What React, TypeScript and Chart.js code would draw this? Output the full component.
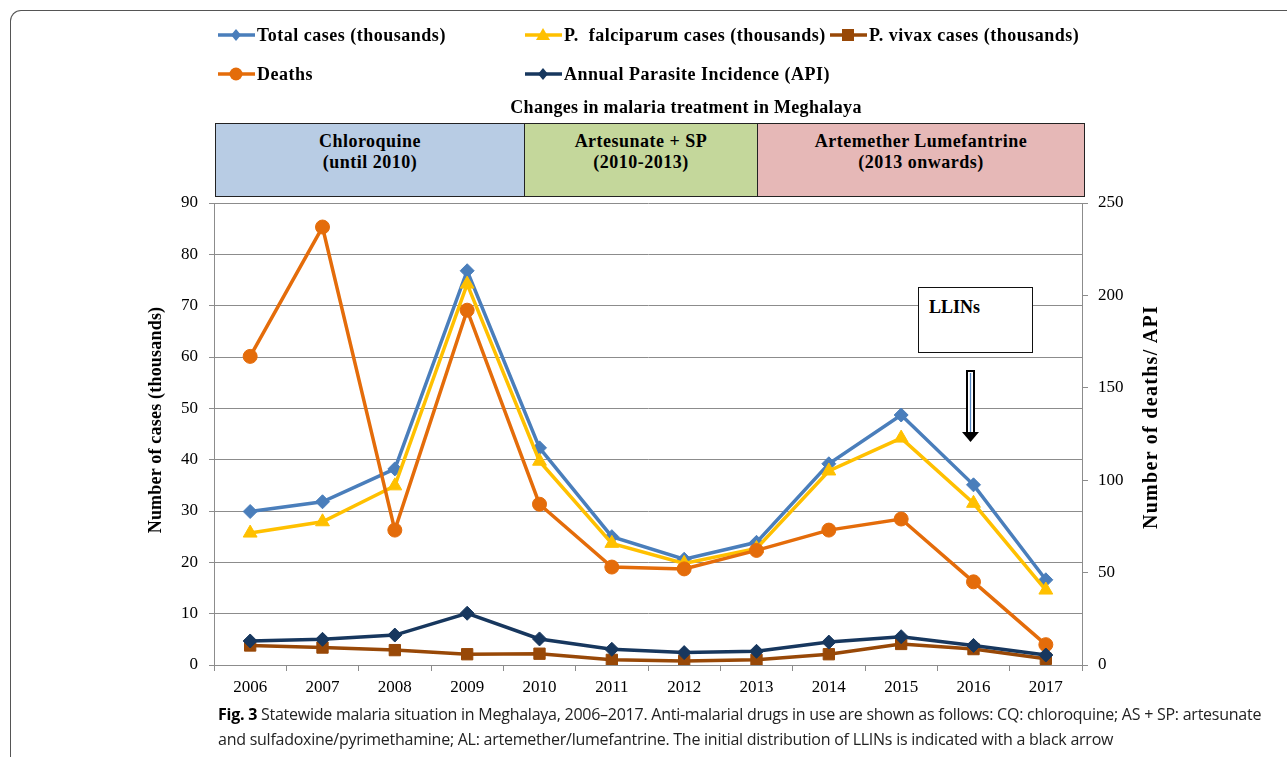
import React, { useEffect, useRef } from "react";
import { Chart, registerables } from "chart.js";

Chart.register(...registerables);

const years = ["2006", "2007", "2008", "2009", "2010", "2011", "2012", "2013", "2014", "2015", "2016", "2017"];
const totalCases = [29.9, 31.8, 38.2, 76.8, 42.3, 25.0, 20.6, 23.9, 39.2, 48.7, 35.1, 16.6];
const falciparumCases = [25.7, 27.9, 34.9, 74.2, 39.7, 23.7, 19.8, 22.7, 37.8, 44.2, 31.5, 14.6];
const vivaxCases = [3.8, 3.4, 2.9, 2.1, 2.2, 1.0, 0.8, 1.0, 2.1, 4.1, 3.1, 1.2];
const deaths = [167, 237, 73, 192, 87, 53, 52, 62, 73, 79, 45, 11];
const apiValues = [13.0, 13.9, 16.2, 28.0, 14.1, 8.5, 6.7, 7.4, 12.4, 15.3, 10.6, 5.4];

const leftTicks = { min: 0, max: 90, step: 10 };
const rightTicks = { min: 0, max: 250, step: 50 };

const C_TOTAL = "#4A7EBB";
const C_PF = "#FFC000";
const C_PV = "#984807";
const C_DEATH = "#E46C0A";
const C_API = "#17375E";

const SERIF = "'Liberation Serif', 'DejaVu Serif', serif";
const GRID = "#8C8C8C";

type Marker = "rectRot" | "triangle" | "rect" | "circle";

function LegendSwatch({ color, marker }: { color: string; marker: Marker }) {
  const cx = 18, cy = 8;
  let shape: React.ReactNode = null;
  if (marker === "rectRot") shape = <polygon points={`${cx},${cy - 6} ${cx + 5},${cy} ${cx},${cy + 6} ${cx - 5},${cy}`} fill={color} />;
  if (marker === "triangle") shape = <polygon points={`${cx},${cy - 7} ${cx + 7},${cy + 5} ${cx - 7},${cy + 5}`} fill={color} />;
  if (marker === "rect") shape = <rect x={cx - 6} y={cy - 6} width={12} height={12} fill={color} />;
  if (marker === "circle") shape = <circle cx={cx} cy={cy} r={6.5} fill={color} />;
  return (
    <svg width={37} height={16} style={{ display: "block" }}>
      <line x1={0} y1={cy} x2={37} y2={cy} stroke={color} strokeWidth={3.5} />
      {shape}
    </svg>
  );
}

function LegendItem({ left, top, color, marker, label }: { left: number; top: number; color: string; marker: Marker; label: string }) {
  return (
    <div style={{ position: "absolute", left, top, display: "flex", alignItems: "center", whiteSpace: "pre" }}>
      <LegendSwatch color={color} marker={marker} />
      <span style={{ marginLeft: 2, fontFamily: SERIF, fontWeight: "bold", fontSize: 18, letterSpacing: 0.5, color: "#000", lineHeight: "22px" }}>{label}</span>
    </div>
  );
}

export default function App() {
  const canvasRef = useRef<HTMLCanvasElement | null>(null);

  useEffect(() => {
    if (!canvasRef.current) return;
    const mk = (label: string, data: number[], color: string, style: Marker, radius: number, axis: string, order: number, width = 3.5) => ({
      label,
      data,
      borderColor: color,
      backgroundColor: color,
      pointBackgroundColor: color,
      pointBorderColor: color,
      pointBorderWidth: 1,
      pointStyle: style,
      pointRadius: radius,
      borderWidth: width,
      yAxisID: axis,
      order,
      tension: 0,
      fill: false,
    });
    const chart = new Chart(canvasRef.current, {
      type: "line",
      data: {
        labels: years,
        datasets: [
          mk("Total cases (thousands)", totalCases, C_TOTAL, "rectRot", 7, "y", 5),
          mk("P.  falciparum cases (thousands)", falciparumCases, C_PF, "triangle", 8, "y", 4),
          mk("P. vivax cases (thousands)", vivaxCases, C_PV, "rect", 8, "y", 3),
          mk("Deaths", deaths, C_DEATH, "circle", 7, "y1", 2),
          mk("Annual Parasite Incidence (API)", apiValues, C_API, "rectRot", 7, "y1", 1),
        ] as any,
      },
      options: {
        responsive: false,
        animation: false,
        devicePixelRatio: 1,
        layout: { padding: { top: 203, bottom: 52, left: 0, right: 0 } },
        plugins: { legend: { display: false }, title: { display: false }, tooltip: { enabled: false } },
        font: { family: SERIF },
        scales: {
          x: {
            type: "category",
            offset: true,
            grid: { display: true, drawOnChartArea: false, drawTicks: true, tickLength: 6, offset: true, color: GRID },
            border: { display: true, color: GRID, width: 1 },
            ticks: { color: "#000", font: { family: SERIF, size: 17 }, padding: 6, maxRotation: 0, autoSkip: false },
            afterFit: (s: any) => { s.height = 40; },
          },
          y: {
            type: "linear",
            position: "left",
            min: leftTicks.min,
            max: leftTicks.max,
            ticks: { stepSize: leftTicks.step, color: "#000", font: { family: SERIF, size: 17 }, padding: 11 },
            grid: { color: GRID, lineWidth: 1, drawTicks: true, tickLength: 5 },
            border: { display: true, color: GRID, width: 1 },
            afterFit: (s: any) => { s.width = 214; },
          },
          y1: {
            type: "linear",
            position: "right",
            min: rightTicks.min,
            max: rightTicks.max,
            ticks: { stepSize: rightTicks.step, color: "#000", font: { family: SERIF, size: 17 }, padding: 10 },
            grid: { drawOnChartArea: false, drawTicks: true, tickLength: 6, color: GRID },
            border: { display: true, color: GRID, width: 1 },
            afterFit: (s: any) => { s.width = 205; },
          },
        },
      } as any,
    });
    return () => chart.destroy();
  }, []);

  const boxStyle = (left: number, width: number, bg: string): React.CSSProperties => ({
    position: "absolute",
    left,
    top: 123,
    width,
    height: 74,
    boxSizing: "border-box",
    background: bg,
    border: "1px solid #222",
    fontFamily: SERIF,
    fontWeight: "bold",
    fontSize: 18,
    letterSpacing: 0.5,
    lineHeight: "21px",
    textAlign: "center",
    paddingTop: 7,
    color: "#000",
  });

  return (
    <div style={{ position: "absolute", left: 0, top: 0, width: 1287, height: 757, overflow: "hidden", background: "#fff" }}>
      <div style={{ position: "absolute", left: 10, top: 9.5, width: 1300, height: 800, borderTop: "1.5px solid #555", borderLeft: "1.5px solid #555", borderTopLeftRadius: 11 }} />
      <canvas ref={canvasRef} width={1287} height={757} style={{ position: "absolute", left: 0, top: 0, width: 1287, height: 757 }} />

      <LegendItem left={218} top={24} color={C_TOTAL} marker="rectRot" label="Total cases (thousands)" />
      <LegendItem left={525} top={24} color={C_PF} marker="triangle" label="P.  falciparum cases (thousands)" />
      <LegendItem left={830} top={24} color={C_PV} marker="rect" label="P. vivax cases (thousands)" />
      <LegendItem left={218} top={63} color={C_DEATH} marker="circle" label="Deaths" />
      <LegendItem left={525} top={63} color={C_API} marker="rectRot" label="Annual Parasite Incidence (API)" />

      <div style={{ position: "absolute", left: 436, top: 96, width: 500, textAlign: "center", fontFamily: SERIF, fontWeight: "bold", fontSize: 18, letterSpacing: 0.3, lineHeight: "22px", whiteSpace: "nowrap" }}>
        Changes in malaria treatment in Meghalaya
      </div>

      <div style={boxStyle(215, 310, "#B8CCE4")}>Chloroquine<br />(until 2010)</div>
      <div style={boxStyle(524, 234, "#C4D79B")}>Artesunate + SP<br />(2010-2013)</div>
      <div style={boxStyle(757, 328, "#E6B8B7")}>Artemether Lumefantrine<br />(2013 onwards)</div>

      <div style={{ position: "absolute", left: 5, top: 408, width: 300, height: 24, lineHeight: "24px", transform: "rotate(-90deg)", textAlign: "center", fontFamily: SERIF, fontWeight: "bold", fontSize: 18, letterSpacing: 0.2, whiteSpace: "nowrap" }}>
        Number of cases (thousands)
      </div>
      <div style={{ position: "absolute", left: 1000, top: 405, width: 300, height: 24, lineHeight: "24px", transform: "rotate(-90deg)", textAlign: "center", fontFamily: SERIF, fontWeight: "bold", fontSize: 20, letterSpacing: 1.3, whiteSpace: "nowrap" }}>
        Number of deaths/ API
      </div>

      <div style={{ position: "absolute", left: 918, top: 287, width: 115, height: 66, boxSizing: "border-box", border: "1px solid #111", background: "#fff", fontFamily: SERIF, fontWeight: "bold", fontSize: 18, paddingLeft: 10, paddingTop: 8, lineHeight: "22px" }}>
        LLINs
      </div>
      <svg style={{ position: "absolute", left: 950, top: 365, overflow: "visible" }} width={40} height={85}>
        <rect x={17} y={6} width={7} height={62} fill="#fff" stroke="#000" strokeWidth={2} />
        <line x1={20.5} y1={8} x2={20.5} y2={67} stroke="#4F81BD" strokeWidth={1.3} />
        <polygon points="12,67 29,67 20.5,77" fill="#000" />
      </svg>

      <div style={{ position: "absolute", left: 218, top: 702, width: 1060, fontFamily: "'Open Sans', 'Noto Sans', sans-serif", fontSize: 16, lineHeight: "25px", letterSpacing: -0.25, color: "#222", whiteSpace: "nowrap" }}>
        <span style={{ fontWeight: "bold", color: "#000" }}>Fig. 3</span>{"  "}Statewide malaria situation in Meghalaya, 2006–2017. Anti-malarial drugs in use are shown as follows: CQ: chloroquine; AS + SP: artesunate
        <br />
        and sulfadoxine/pyrimethamine; AL: artemether/lumefantrine. The initial distribution of LLINs is indicated with a black arrow
      </div>
    </div>
  );
}
